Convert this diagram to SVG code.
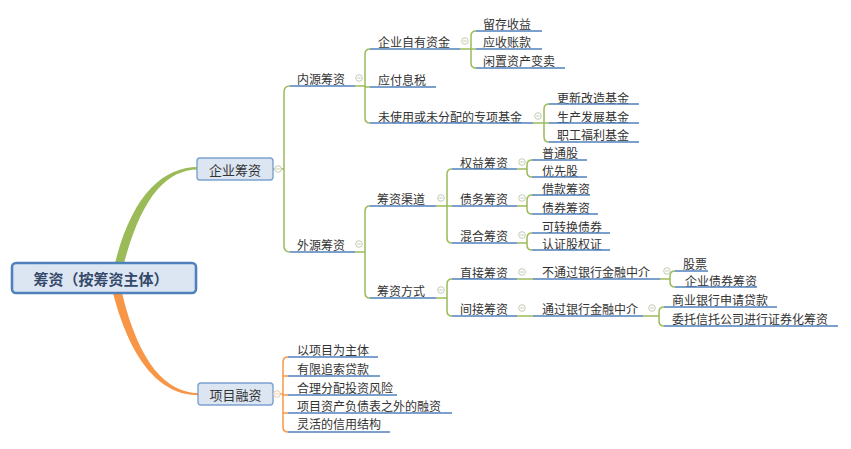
<svg xmlns="http://www.w3.org/2000/svg" width="851" height="449" viewBox="0 0 851 449">
<style>
.t{font-family:"Noto Sans CJK SC","Noto Sans",sans-serif;font-size:12px;fill:#333;dominant-baseline:central}
.t1{font-family:"Noto Sans CJK SC","Noto Sans",sans-serif;font-size:13px;fill:#333;dominant-baseline:central;text-anchor:middle}
.tr{font-family:"Noto Sans CJK SC","Noto Sans",sans-serif;font-size:15px;font-weight:bold;fill:#34486a;dominant-baseline:central;text-anchor:middle}
.ul{stroke:#4f81bd;stroke-width:1.6;fill:none}
.g{stroke:#9bbb59;stroke-width:1.5;fill:none}
.o{stroke:#f79646;stroke-width:1.5;fill:none}
.mk{fill:#fff;stroke:#c3ccb3;stroke-width:1}
.mko{fill:#fff;stroke:#eec8a6;stroke-width:1}
.box{fill:#dce6f2;stroke:#7ca1cf;stroke-width:1.4}
</style>
<defs>
<g id="m"><circle r="3.3" class="mk"/><line x1="-1.8" y1="0" x2="1.8" y2="0" stroke="#c3ccb3" stroke-width="1"/></g>
<g id="mo"><circle r="3.3" class="mko"/><line x1="-1.8" y1="0" x2="1.8" y2="0" stroke="#eec8a6" stroke-width="1"/></g>
</defs>
<rect width="851" height="449" fill="#fff"/>

<g id="connectors">
<path d="M115,263 C132,196 162,167 198,167 L198,169.6 C166,170 142,197 124,263 Z" fill="#9bbb59"/>
<path d="M113,293 C132,366 163,395 198,395.2 L198,393 C167,393 139,364 122,293 Z" fill="#f79646"/>
<!-- 企业筹资 bracket -->
<path class="g" d="M273,169 L284,169 M290,86 Q284,86 284,92 L284,246 Q284,252 290,252" stroke-width="1.8"/>
<!-- 内源 -->
<path class="g" d="M355,86 L365,86 M370,49 Q365,49 365,54 L365,118 Q365,123 370,123 M365,87 L370,87"/>
<!-- 外源 -->
<path class="g" d="M355,252 L365,252 M370,206 Q365,206 365,211 L365,293 Q365,298 370,298"/>
<!-- 企业自有资金 -->
<path class="g" d="M460,49 L471,49 M476,31 Q471,31 471,36 L471,63 Q471,68 476,68 M471,49 L476,49"/>
<!-- 专项基金 -->
<path class="g" d="M533,123 L544,123 M549,104 Q544,104 544,109 L544,137 Q544,142 549,142 M544,123 L549,123"/>
<!-- 筹资渠道 -->
<path class="g" d="M436,206 L447,206 M452,169 Q447,169 447,174 L447,238 Q447,243 452,243 M447,206 L452,206"/>
<!-- 筹资方式 -->
<path class="g" d="M436,298 L447,298 M452,279 Q447,279 447,284 L447,311 Q447,316 452,316"/>
<!-- 权益 / 债务 / 混合 -->
<path class="g" d="M517,169 L527,169 M532,160 Q527,160 527,165 L527,172 Q527,177 532,177"/>
<path class="g" d="M517,206 L527,206 M532,195 Q527,195 527,200 L527,209 Q527,214 532,214"/>
<path class="g" d="M517,243 L527,243 M532,233 Q527,233 527,238 L527,245 Q527,250 532,250"/>
<!-- 直接 / 间接 -->
<path class="g" d="M517,279 L533,279 M517,316 L533,316"/>
<!-- 不通过 / 通过 -->
<path class="g" d="M660,279 L670,279 M675,271 Q670,271 670,276 L670,282 Q670,287 675,287"/>
<path class="g" d="M643,316 L659,316 M664,307 Q659,307 659,312 L659,321 Q659,326 664,326"/>
<!-- 项目融资 -->
<path class="o" d="M273,394 L283,394 M288,357 Q283,357 283,362 L283,427 Q283,432 288,432 M283,376 L288,376 M283,395 L288,395 M283,413 L288,413" stroke-width="1.8"/>
</g>

<g id="root">
<rect x="12" y="263" width="184" height="30" rx="4" fill="#dce6f2" stroke="#4f81bd" stroke-width="2.6"/>
<text class="tr" x="101" y="278">筹资（按筹资主体）</text>
</g>
<g id="qiye">
<rect class="box" x="197" y="158" width="76" height="22" rx="3"/>
<text class="t1" x="235" y="169">企业筹资</text>
<use href="#m" x="278" y="169"/>
</g>
<g id="xiangmu">
<rect class="box" x="198" y="383" width="75" height="22" rx="3"/>
<text class="t1" x="235.5" y="394">项目融资</text>
<use href="#mo" x="277" y="394"/>
</g>

<g id="neiyuan"><text class="t" x="297" y="78">内源筹资</text><line class="ul" x1="290" y1="86" x2="355" y2="86"/><use href="#m" x="359" y="78"/></g>
<g id="waiyuan"><text class="t" x="297" y="244">外源筹资</text><line class="ul" x1="290" y1="252" x2="355" y2="252"/><use href="#m" x="359" y="244"/></g>

<g id="ziyou"><text class="t" x="378" y="41">企业自有资金</text><line class="ul" x1="370" y1="49" x2="460" y2="49"/><use href="#m" x="465" y="41"/></g>
<g id="yingfu"><text class="t" x="378" y="79">应付息税</text><line class="ul" x1="370" y1="87" x2="436" y2="87"/></g>
<g id="zhuanxiang"><text class="t" x="378" y="116">未使用或未分配的专项基金</text><line class="ul" x1="370" y1="123" x2="533" y2="123"/><use href="#m" x="538" y="116"/></g>

<g id="liucun"><text class="t" x="483" y="23">留存收益</text><line class="ul" x1="476" y1="31" x2="542" y2="31"/></g>
<g id="yingshou"><text class="t" x="483" y="41">应收账款</text><line class="ul" x1="476" y1="49" x2="542" y2="49"/></g>
<g id="xianzhi"><text class="t" x="483" y="60">闲置资产变卖</text><line class="ul" x1="476" y1="68" x2="565" y2="68"/></g>

<g id="gengxin"><text class="t" x="557" y="97">更新改造基金</text><line class="ul" x1="549" y1="104" x2="639" y2="104"/></g>
<g id="shengchan"><text class="t" x="557" y="116">生产发展基金</text><line class="ul" x1="549" y1="123" x2="639" y2="123"/></g>
<g id="zhigong"><text class="t" x="557" y="134">职工福利基金</text><line class="ul" x1="549" y1="142" x2="639" y2="142"/></g>

<g id="qudao"><text class="t" x="377" y="198">筹资渠道</text><line class="ul" x1="370" y1="206" x2="436" y2="206"/><use href="#m" x="441" y="198"/></g>
<g id="fangshi"><text class="t" x="377" y="290">筹资方式</text><line class="ul" x1="370" y1="298" x2="436" y2="298"/><use href="#m" x="441" y="290"/></g>

<g id="quanyi"><text class="t" x="460" y="162">权益筹资</text><line class="ul" x1="452" y1="169" x2="517" y2="169"/><use href="#m" x="522" y="162"/></g>
<g id="zhaiwu"><text class="t" x="460" y="198">债务筹资</text><line class="ul" x1="452" y1="206" x2="517" y2="206"/><use href="#m" x="522" y="198"/></g>
<g id="hunhe"><text class="t" x="460" y="235">混合筹资</text><line class="ul" x1="452" y1="243" x2="517" y2="243"/><use href="#m" x="522" y="235"/></g>

<g id="putong"><text class="t" x="542" y="152">普通股</text><line class="ul" x1="532" y1="160" x2="587" y2="160"/></g>
<g id="youxian"><text class="t" x="542" y="170">优先股</text><line class="ul" x1="532" y1="177" x2="587" y2="177"/></g>
<g id="jiekuan"><text class="t" x="542" y="188">借款筹资</text><line class="ul" x1="532" y1="195" x2="590" y2="195"/></g>
<g id="zhaiquan"><text class="t" x="542" y="207">债券筹资</text><line class="ul" x1="532" y1="214" x2="598" y2="214"/></g>
<g id="kezhuan"><text class="t" x="542" y="226">可转换债券</text><line class="ul" x1="532" y1="233" x2="610" y2="233"/></g>
<g id="renzheng"><text class="t" x="542" y="243">认证股权证</text><line class="ul" x1="532" y1="250" x2="610" y2="250"/></g>

<g id="zhijie"><text class="t" x="460" y="272">直接筹资</text><line class="ul" x1="452" y1="279" x2="517" y2="279"/><use href="#m" x="522" y="272"/></g>
<g id="jianjie"><text class="t" x="460" y="308">间接筹资</text><line class="ul" x1="452" y1="316" x2="517" y2="316"/><use href="#m" x="522" y="308"/></g>

<g id="butongguo"><text class="t" x="542" y="271">不通过银行金融中介</text><line class="ul" x1="533" y1="279" x2="660" y2="279"/><use href="#m" x="667" y="271"/></g>
<g id="tongguo"><text class="t" x="542" y="308">通过银行金融中介</text><line class="ul" x1="533" y1="316" x2="643" y2="316"/><use href="#m" x="652" y="308"/></g>

<g id="gupiao"><text class="t" x="683" y="263">股票</text><line class="ul" x1="675" y1="271" x2="708" y2="271"/></g>
<g id="qiyezhaiquan"><text class="t" x="685" y="280">企业债券筹资</text><line class="ul" x1="675" y1="287" x2="757" y2="287"/></g>
<g id="shangye"><text class="t" x="672" y="299">商业银行申请贷款</text><line class="ul" x1="664" y1="307" x2="777" y2="307"/></g>
<g id="weituo"><text class="t" x="672" y="318">委托信托公司进行证券化筹资</text><line class="ul" x1="664" y1="326" x2="838" y2="326"/></g>

<g id="p1"><text class="t" x="297" y="349">以项目为主体</text><line class="ul" x1="288" y1="357" x2="378" y2="357"/></g>
<g id="p2"><text class="t" x="297" y="368">有限追索贷款</text><line class="ul" x1="288" y1="376" x2="380" y2="376"/></g>
<g id="p3"><text class="t" x="297" y="387">合理分配投资风险</text><line class="ul" x1="288" y1="395" x2="397" y2="395"/></g>
<g id="p4"><text class="t" x="297" y="405">项目资产负债表之外的融资</text><line class="ul" x1="288" y1="413" x2="452" y2="413"/></g>
<g id="p5"><text class="t" x="297" y="423">灵活的信用结构</text><line class="ul" x1="288" y1="432" x2="390" y2="432"/></g>
</svg>
